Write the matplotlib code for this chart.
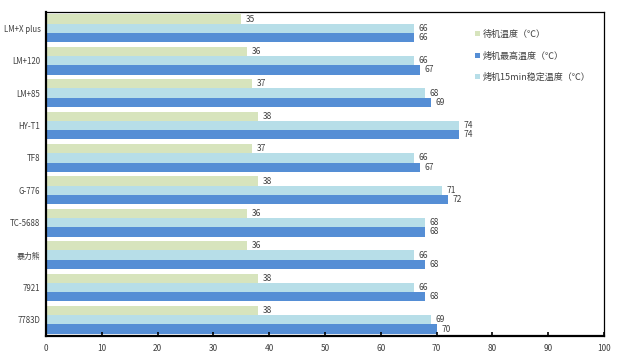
import numpy as np
import matplotlib.pyplot as plt

plt.rcParams['font.family'] = ['Noto Sans CJK SC', 'DejaVu Sans']

models = ['LM+X plus', 'LM+120', 'LM+85', 'HY-T1', 'TF8', 'G-776', 'TC-5688', '暴力熊', '7921', '7783D']
standby = [35, 36, 37, 38, 37, 38, 36, 36, 38, 38]
max_temp = [66, 67, 69, 74, 67, 72, 68, 68, 68, 70]
stable_15 = [66, 66, 68, 74, 66, 71, 68, 66, 66, 69]

fig = plt.figure(figsize=(6.17, 3.56), dpi=100)
ax = fig.add_axes([0.0746, 0.056, 0.9044, 0.910])

y = np.arange(len(models))
h = 0.285
text_c = '#404040'

b1 = ax.barh(y - h, standby, height=h, color='#D7E4BD', label='待机温度（℃）')
b3 = ax.barh(y, stable_15, height=h, color='#B7DEE8', label='烤机15min稳定温度（℃）')
b2 = ax.barh(y + h, max_temp, height=h, color='#558ED5', label='烤机最高温度（℃）')

for bars in (b1, b3, b2):
    for rect in bars:
        w = rect.get_width()
        ax.text(w + 0.8, rect.get_y() + rect.get_height() / 2, f'{w:g}',
                va='center', ha='left', fontsize=6, color=text_c)

ax.set_ylim(len(models) - 0.5, -0.5)
ax.set_xlim(0, 100)
ax.set_xticks(range(0, 101, 10))
ax.set_yticks(y)
ax.set_yticklabels(models)
ax.tick_params(axis='x', direction='in', length=3, width=1.2, labelsize=6, colors='black', labelcolor=text_c, pad=6)
ax.tick_params(axis='y', length=0, labelsize=5.7, labelcolor=text_c, pad=4)

for side in ('left', 'bottom'):
    ax.spines[side].set_linewidth(1.6)
for side in ('top', 'right'):
    ax.spines[side].set_linewidth(0.9)

leg = ax.legend(handles=[b1, b2, b3], loc='upper left', bbox_to_anchor=(0.755, 0.97),
                frameon=False, fontsize=6.5, handlelength=0.5, handleheight=0.5,
                handletextpad=0.3, labelspacing=1.35, labelcolor=text_c)

fig.savefig('out.png', dpi=100)
